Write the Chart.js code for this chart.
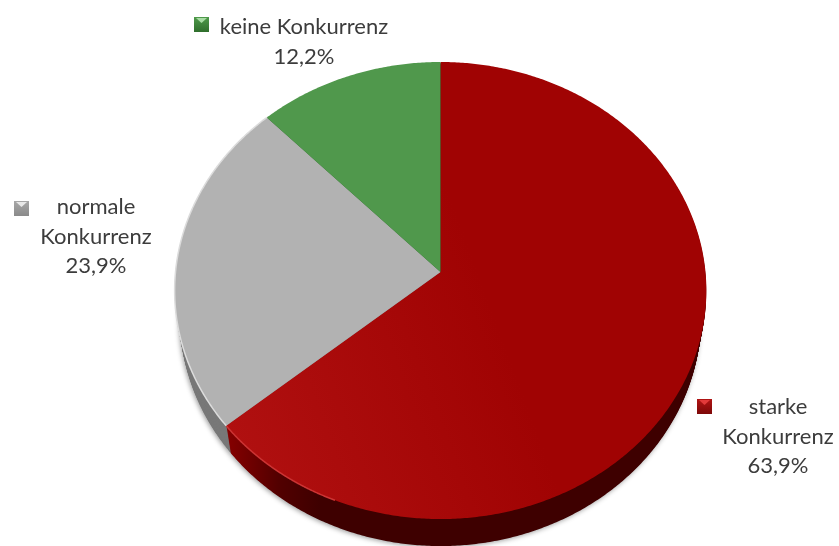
<!DOCTYPE html>
<html lang="de">
<head>
<meta charset="utf-8">
<title>Konkurrenz</title>
<script src="https://cdn.jsdelivr.net/npm/chart.js@4"></script>
<style>
  html, body { margin: 0; padding: 0; background: #fff; }
  canvas { display: block; }
</style>
</head>
<body>
<canvas id="grafico" width="839" height="546"></canvas>
<script>
const categorias = [['starke', 'Konkurrenz'], ['normale', 'Konkurrenz'], ['keine Konkurrenz']];
const valores = [63.9, 23.9, 12.2];
const coresTopo = ['#a00303', '#b2b2b2', '#50984c'];
const coresLado = ['#3e0000', '#787878', '#2f5c2c'];

// label boxes: centre x, first baseline y, marker x/y
const rotulos = [
  { cx: 778, y: 407, mx: 697, my: 399, claro: '#e23a3a', base: '#b01414', escuro: '#7d0808' },
  { cx: 96, y: 207, mx: 14, my: 201, claro: '#e8e8e8', base: '#a8a8a8', escuro: '#8a8a8a' },
  { cx: 304, y: 27, mx: 194, my: 17, claro: '#a8dca4', base: '#4f9a4b', escuro: '#2f6e2c' }
];

// the pie is tilted, so a circle is projected on an off-centre ellipse
const pv = { cx: 440.5, apice: 272, d: 265, a: 205, c: -0.081, prof: 27, estreita: 0.02 };

function projeta(ang) {
  const u = Math.cos(ang), v = Math.sin(ang);
  const w = 1 + pv.c * v;
  return [pv.cx + pv.d * u / w, (pv.a * v + pv.apice) / w];
}

function fatia(ctx, arco, dy) {
  const esc = 1 - pv.estreita * dy / pv.prof;
  ctx.beginPath();
  ctx.moveTo(pv.cx, pv.apice + dy);
  const passos = Math.ceil((arco.endAngle - arco.startAngle) * 120);
  for (let i = 0; i <= passos; i++) {
    const p = projeta(arco.startAngle + (arco.endAngle - arco.startAngle) * i / passos);
    ctx.lineTo(pv.cx + (p[0] - pv.cx) * esc, p[1] + dy);
  }
  ctx.closePath();
}

function borda(ctx, arco, ini, fim) {
  const a0 = Math.max(arco.startAngle, ini), a1 = Math.min(arco.endAngle, fim);
  ctx.beginPath();
  for (let i = 0; i <= 200; i++) {
    const p = projeta(a0 + (a1 - a0) * i / 200);
    ctx.lineTo(p[0], p[1]);
  }
  ctx.stroke();
}

const pizza3d = {
  id: 'pizza3d',
  beforeDatasetsDraw(chart) {
    const ctx = chart.ctx;
    const arcos = chart.getDatasetMeta(0).data;
    const ordem = [2, 1, 0];

    // red wall is lighter close to the grey slice
    const ladoVermelho = ctx.createLinearGradient(228, 0, 320, 0);
    ladoVermelho.addColorStop(0, '#850000');
    ladoVermelho.addColorStop(0.55, '#520000');
    ladoVermelho.addColorStop(1, coresLado[0]);
    const ladoCor = i => (i === 0 ? ladoVermelho : coresLado[i]);

    // side wall with soft shadow
    ctx.save();
    ctx.shadowColor = 'rgba(0,0,0,0.4)';
    ctx.shadowBlur = 5;
    ctx.shadowOffsetX = -1;
    ctx.shadowOffsetY = 1;
    ordem.forEach(i => {
      fatia(ctx, arcos[i], pv.prof);
      ctx.fillStyle = ladoCor(i);
      ctx.fill();
    });
    ctx.restore();
    ordem.forEach(i => {
      for (let dy = pv.prof - 1; dy > 0; dy--) {
        fatia(ctx, arcos[i], dy);
        ctx.fillStyle = ladoCor(i);
        ctx.fill();
      }
    });

    // top face
    const topoVermelho = ctx.createLinearGradient(230, 430, 500, 330);
    topoVermelho.addColorStop(0, '#b01010');
    topoVermelho.addColorStop(1, coresTopo[0]);
    arcos.forEach((arco, i) => {
      fatia(ctx, arco, 0);
      ctx.fillStyle = i === 0 ? topoVermelho : coresTopo[i];
      ctx.fill();
    });

    // light rim on the lower left edge
    ctx.save();
    ctx.lineWidth = 1.5;
    ctx.strokeStyle = '#cc3434';
    borda(ctx, arcos[0], Math.PI * 0.62, Math.PI * 1.2);
    ctx.strokeStyle = '#dcdcdc';
    borda(ctx, arcos[1], 0, Math.PI * 2);
    ctx.restore();

    return false;
  },
  afterDraw(chart) {
    const ctx = chart.ctx;
    ctx.save();
    ctx.font = '22px Lato';
    ctx.textAlign = 'center';
    ctx.textBaseline = 'middle';
    categorias.forEach((linhas, i) => {
      const r = rotulos[i];
      const texto = linhas.concat(valores[i].toFixed(1).replace('.', ',') + '%');
      ctx.fillStyle = '#3c3c3c';
      texto.forEach((t, j) => ctx.fillText(t, r.cx, r.y + j * 29.5));

      const g = ctx.createLinearGradient(0, r.my, 0, r.my + 15);
      g.addColorStop(0, r.base);
      g.addColorStop(1, r.escuro);
      ctx.fillStyle = g;
      ctx.fillRect(r.mx, r.my, 15, 15);
      ctx.fillStyle = r.claro;
      ctx.beginPath();
      ctx.moveTo(r.mx + 2, r.my + 1);
      ctx.lineTo(r.mx + 13, r.my + 1);
      ctx.lineTo(r.mx + 7.5, r.my + 6);
      ctx.closePath();
      ctx.fill();
    });
    ctx.restore();
  }
};

new Chart(document.getElementById('grafico').getContext('2d'), {
  type: 'pie',
  data: {
    labels: categorias.map(l => l.join(' ')),
    datasets: [{ data: valores, backgroundColor: coresTopo, borderWidth: 0 }]
  },
  options: {
    responsive: false,
    animation: false,
    devicePixelRatio: 1,
    plugins: { legend: { display: false }, tooltip: { enabled: false } }
  },
  plugins: [pizza3d]
});
</script>
</body>
</html>
